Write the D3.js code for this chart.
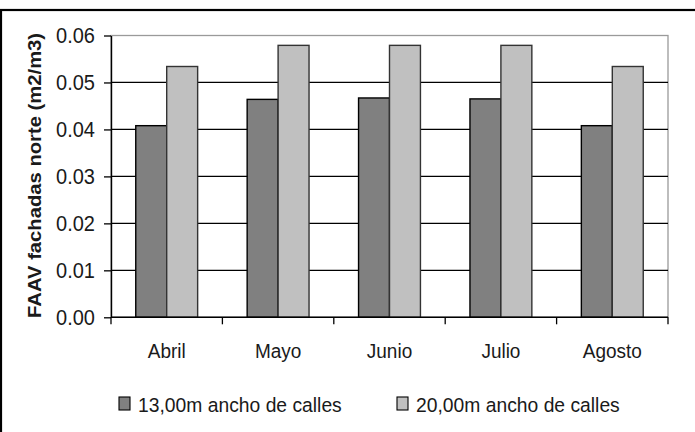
<!DOCTYPE html>
<html>
<head>
<meta charset="utf-8">
<script src="https://cdn.jsdelivr.net/npm/d3@7"></script>
<style>
  html, body { margin: 0; padding: 0; background: #fff; }
  svg { display: block; }
  text { font-family: "Liberation Sans", Arial, sans-serif; fill: #1a1a1a; }
</style>
</head>
<body>
<svg id="chart" width="695" height="432"></svg>
<script>
// Monthly north-facade FAAV for two street widths
const months = ["Abril", "Mayo", "Junio", "Julio", "Agosto"];
const seriesNames = ["13,00m ancho de calles", "20,00m ancho de calles"];
const narrowStreet = [0.0408, 0.0464, 0.0467, 0.0465, 0.0408];
const wideStreet = [0.0534, 0.0579, 0.0579, 0.0579, 0.0534];
const yTicks = [0, 0.01, 0.02, 0.03, 0.04, 0.05, 0.06];
const yTitle = "FAAV fachadas norte (m2/m3)";
const fills = ["#808080", "#c0c0c0"];

const rows = months.map((m, i) => ({ month: m, values: [narrowStreet[i], wideStreet[i]] }));

const svg = d3.select("#chart");
const plot = { left: 111, right: 668, top: 35.5, bottom: 317.3 };

// outer frame (top and left edges visible)
svg.append("rect")
  .attr("x", 1).attr("y", 10)
  .attr("width", 720).attr("height", 460)
  .attr("fill", "none").attr("stroke", "#000").attr("stroke-width", 2.2);

const x0 = d3.scaleBand().domain(months).range([plot.left, plot.right]).padding(0);
const x1 = d3.scaleBand().domain([0, 1]).range([0, x0.bandwidth()]).paddingInner(0).paddingOuter(0.8);
const y = d3.scaleLinear().domain([0, 0.06]).range([plot.bottom, plot.top]);

// plot-area border (grey top and right edges)
svg.append("rect")
  .attr("x", plot.left).attr("y", plot.top)
  .attr("width", plot.right - plot.left).attr("height", plot.bottom - plot.top)
  .attr("fill", "none").attr("stroke", "#9a9a9a").attr("stroke-width", 1.3);

// horizontal gridlines
svg.append("g").selectAll("line")
  .data(yTicks.filter(t => t > 0 && t < 0.06))
  .join("line")
  .attr("x1", plot.left).attr("x2", plot.right)
  .attr("y1", d => y(d)).attr("y2", d => y(d))
  .attr("stroke", "#000").attr("stroke-width", 1.3);

// bars
const groups = svg.append("g").selectAll("g")
  .data(rows)
  .join("g")
  .attr("transform", d => `translate(${x0(d.month)},0)`);

groups.selectAll("rect")
  .data(d => d.values.map((v, k) => ({ k, v })))
  .join("rect")
  .attr("x", d => x1(d.k))
  .attr("width", x1.bandwidth())
  .attr("y", d => y(d.v))
  .attr("height", d => y(0) - y(d.v))
  .attr("fill", d => fills[d.k])
  .attr("stroke", d => d.k === 0 ? "#000" : "#333")
  .attr("stroke-width", 1.4);

// y axis
const tallY = 1.12;
const yAxis = svg.append("g")
  .attr("transform", `translate(${plot.left},0)`)
  .call(d3.axisLeft(y).tickValues(yTicks).tickSize(7).tickSizeOuter(0).tickFormat(d3.format(".2f")));
yAxis.select(".domain").attr("stroke", "#000").attr("stroke-width", 1.4);
yAxis.selectAll(".tick line").attr("stroke", "#000").attr("stroke-width", 1.3);
yAxis.selectAll(".tick text")
  .attr("x", -16)
  .attr("dy", null)
  .attr("y", 7 / tallY)
  .attr("transform", `scale(1,${tallY})`)
  .style("font-size", "20px");

// x axis (ticks at category boundaries)
const xAxisG = svg.append("g").attr("transform", `translate(0,${plot.bottom})`);
xAxisG.append("line")
  .attr("x1", plot.left).attr("x2", plot.right)
  .attr("stroke", "#000").attr("stroke-width", 1.4);
const bounds = months.map(m => x0(m)).concat([plot.right]);
xAxisG.selectAll("line.tk")
  .data(bounds)
  .join("line")
  .attr("class", "tk")
  .attr("x1", d => d).attr("x2", d => d)
  .attr("y1", 0).attr("y2", 7)
  .attr("stroke", "#000").attr("stroke-width", 1.3);
xAxisG.selectAll("text")
  .data(months)
  .join("text")
  .attr("transform", d => `translate(${x0(d) + x0.bandwidth() / 2},41) scale(1,1.06)`)
  .attr("text-anchor", "middle")
  .style("font-size", "19px")
  .text(d => d);

// y-axis title
svg.append("text")
  .attr("transform", `translate(41,${(plot.top + plot.bottom) / 2 - 1}) rotate(-90)`)
  .attr("text-anchor", "middle")
  .style("font-size", "18px")
  .style("font-weight", "bold")
  .attr("textLength", 285)
  .attr("lengthAdjust", "spacingAndGlyphs")
  .text(yTitle);

// legend
const legendX = [119, 397];
const legend = svg.append("g").selectAll("g")
  .data(seriesNames)
  .join("g")
  .attr("transform", (d, i) => `translate(${legendX[i]},397)`);
legend.append("rect")
  .attr("width", 11).attr("height", 13)
  .attr("fill", (d, i) => fills[i])
  .attr("stroke", "#000").attr("stroke-width", 1.1);
legend.append("text")
  .attr("transform", "translate(19,14.5) scale(1,1.08)")
  .style("font-size", "19.3px")
  .text(d => d);
</script>
</body>
</html>
